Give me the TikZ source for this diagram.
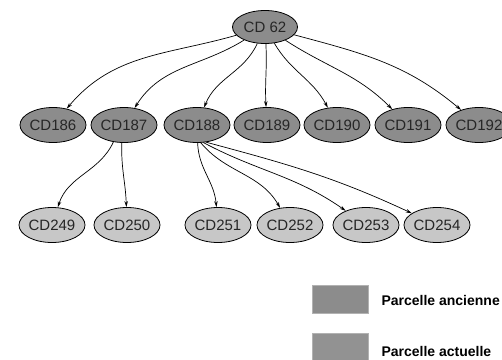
\documentclass[tikz,border=0pt]{standalone}
\usepackage{fontspec}
\setmainfont{Liberation Sans}
\usepackage{tikz}
\usetikzlibrary{shapes.geometric, arrows.meta}

\definecolor{ancienne}{gray}{0.55}
\definecolor{actuelle}{gray}{0.78}

\begin{document}
\begin{tikzpicture}[x=1pt, y=-1pt,
    parcelle/.style={ellipse, draw=black, line width=0.8pt, inner sep=0pt,
      minimum width=64pt, minimum height=35pt, text=black!85,
      font=\fontsize{15}{15}\selectfont},
    old/.style={parcelle, fill=ancienne},
    new/.style={parcelle, fill=actuelle},
    edge/.style={line width=0.7pt, -{Stealth[length=6pt, width=3.5pt]}},
    legend/.style={font=\bfseries\fontsize{14}{15}\selectfont, anchor=west}]
      \useasboundingbox (0,0) rectangle (502,359);
      % parcelle d'origine
      \node[old, minimum width=65pt, minimum height=33pt] (cd62) at (265,27) {CD 62};
      % premiere division
      \node[old] (cd186) at (53,125) {CD186};
      \node[old] (cd187) at (124,125) {CD187};
      \node[old] (cd188) at (197,125) {CD188};
      \node[old] (cd189) at (267,125) {CD189};
      \node[old] (cd190) at (337,125) {CD190};
      \node[old] (cd191) at (408,125) {CD191};
      \node[old] (cd192) at (479,125) {CD192};
      % parcelles actuelles
      \node[new] (cd249) at (52,225) {CD249};
      \node[new] (cd250) at (127,225) {CD250};
      \node[new] (cd251) at (218,225) {CD251};
      \node[new] (cd252) at (290,225) {CD252};
      \node[new] (cd253) at (366,225) {CD253};
      \node[new] (cd254) at (437,225) {CD254};
      \draw[edge] (cd62) to[out=196, in=50] (cd186);
      \draw[edge] (cd62) to[out=212, in=58] (cd187);
      \draw[edge] (cd62) to[out=245, in=68] (cd188);
      \draw[edge] (cd62) to[out=273, in=93] (cd189);
      \draw[edge] (cd62) to[out=300, in=118] (cd190);
      \draw[edge] (cd62) to[out=327, in=135] (cd191);
      \draw[edge] (cd62) to[out=345, in=140] (cd192);
      \draw[edge] (cd187.238) to[out=245, in=72] (cd249);
      \draw[edge] (cd187.263) to[out=268, in=92] (cd250);
      \draw[edge] (cd188.272) to[out=272, in=95] (cd251);
      \draw[edge] (cd188.282) to[out=-50, in=120] (cd252);
      \draw[edge] (cd188.290) to[out=-28, in=145] (cd253);
      \draw[edge] (cd188.298) to[out=-15, in=155] (cd254);
      % legende
      \filldraw[fill=ancienne, draw=black!30] (312,285) rectangle (368,313);
      \filldraw[fill=ancienne!95!white, draw=black!30] (312,333) rectangle (368,362);
      \node[legend] (lanc) at (378,300) {Parcelle ancienne};
      \node[legend] (lact) at (378,351) {Parcelle actuelle};
    \end{tikzpicture}
\end{document}
